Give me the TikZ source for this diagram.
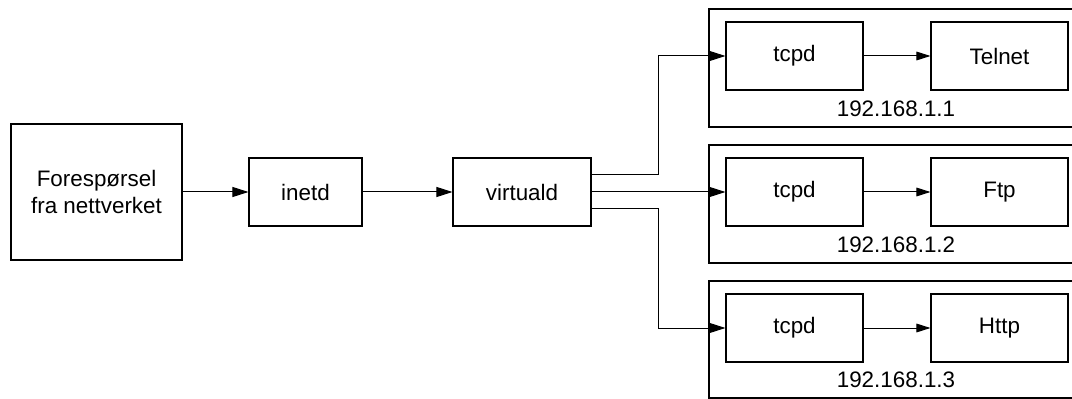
\documentclass[tikz,border=0pt]{standalone}
\usepackage{fontspec}
\setmainfont{Liberation Sans}
\usetikzlibrary{arrows.meta,calc}
\begin{document}
\begin{tikzpicture}[x=0.75pt,y=-0.75pt,
  every node/.style={font=\fontsize{16.8}{20.25}\selectfont},
  proc/.style={draw,line width=0.8pt,inner sep=0pt,minimum height=51pt,align=center},
  host/.style={draw,line width=0.9pt,inner sep=0pt,minimum width=275.25pt,minimum height=88.5pt},
  ip/.style={inner sep=0pt},
  arr/.style={line width=0.75pt,-{Triangle[length=12pt,width=7.5pt]}},
  arrs/.style={line width=0.75pt,-{Triangle[length=10.5pt,width=6.5pt]}}]
\useasboundingbox (0,0) rectangle (1072,399);
\clip (0,0) rectangle (1072,399);

% host groups (right edges run past the page)
\node[host] (h1) at (892.5,68) {};
\node[host] (h2) at (892.5,204) {};
\node[host, minimum height=87.75pt] (h3) at (892.5,339.5) {};

% main chain
\node[proc,minimum width=128.25pt,minimum height=102pt] (req) at (96.5,192) {Forespørsel\\fra nettverket};
\node[proc,minimum width=84.75pt] (inetd) at (305.5,192) {inetd};
\node[proc,minimum width=103.5pt] (virt) at (522,192) {virtuald};

% per-host daemons
\node[proc,minimum width=102.75pt] (t1) at (794.5,56) {tcpd};
\node[proc,minimum width=102.75pt] (s1) at (999.5,56) {Telnet};
\node[proc,minimum width=102.75pt] (t2) at (794.5,192) {tcpd};
\node[proc,minimum width=102.75pt] (s2) at (999.5,192) {Ftp};
\node[proc,minimum width=102.75pt] (t3) at (794.5,328) {tcpd};
\node[proc,minimum width=102.75pt] (s3) at (999.5,328) {Http};

% addresses
\node[ip] (ip1) at (896,109) {192.168.1.1};
\node[ip] (ip2) at (896,245) {192.168.1.2};
\node[ip] (ip3) at (896,380) {192.168.1.3};

% connectors
\draw[arr] (req) -- (inetd);
\draw[arr] (inetd) -- (virt);
\draw[arr] ($(virt.east)+(0,-17)$) -- ++(67,0) |- (t1.west);
\draw[arr] (virt.east) -- (t2.west);
\draw[arr] ($(virt.east)+(0,17)$) -- ++(67,0) |- (t3.west);
\draw[arrs] (t1) -- (s1);
\draw[arrs] (t2) -- (s2);
\draw[arrs] (t3) -- (s3);
\end{tikzpicture}
\end{document}
